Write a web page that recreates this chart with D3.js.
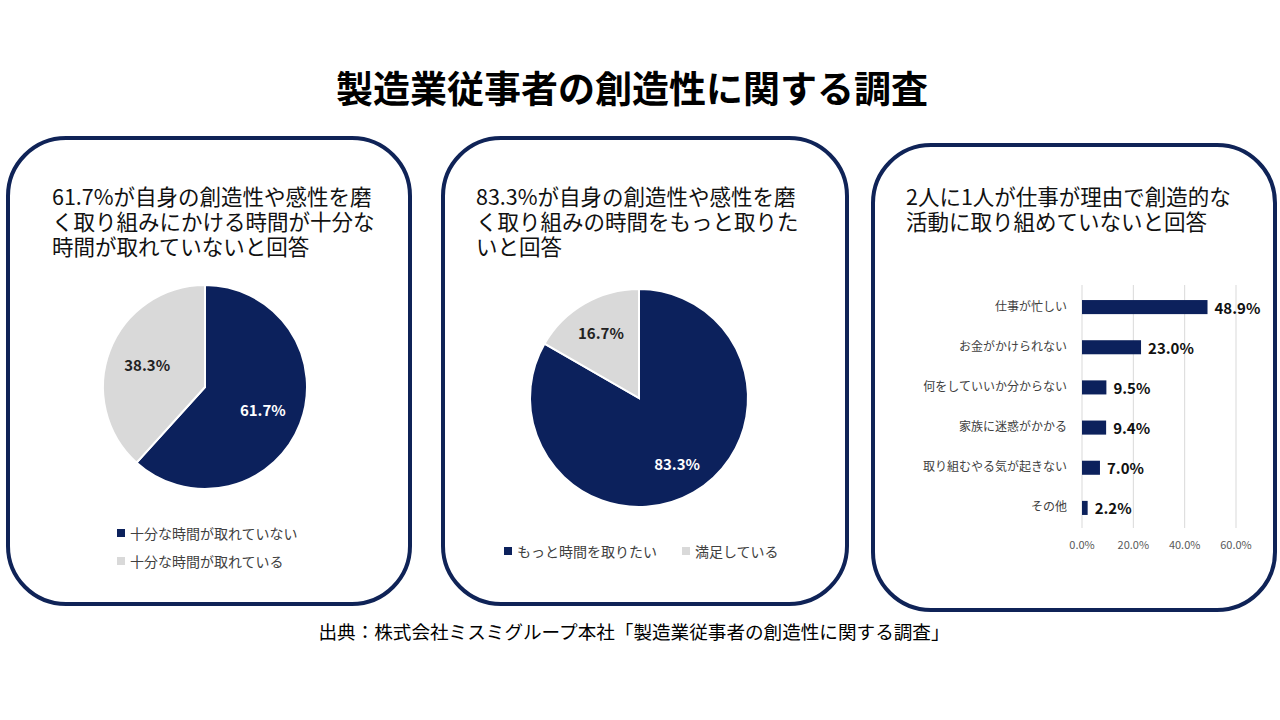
<!DOCTYPE html>
<html><head><meta charset="utf-8">
<script src="https://cdn.jsdelivr.net/npm/d3@7"></script>
<style>
html,body{margin:0;padding:0;background:#fff;}
text{font-family:"Noto Sans CJK JP","Noto Sans",sans-serif;}
</style></head>
<body>
<svg id="chart" width="1280" height="720"></svg>
<script>
const mainTitle = "製造業従事者の創造性に関する調査";
const sourceText = "出典：株式会社ミスミグループ本社「製造業従事者の創造性に関する調査」";

const pie1Title = ["61.7%が自身の創造性や感性を磨", "く取り組みにかける時間が十分な", "時間が取れていないと回答"];
const pie1Labels = ["十分な時間が取れていない", "十分な時間が取れている"];
const pie1Values = [61.7, 38.3];

const pie2Title = ["83.3%が自身の創造性や感性を磨", "く取り組みの時間をもっと取りた", "いと回答"];
const pie2Labels = ["もっと時間を取りたい", "満足している"];
const pie2Values = [83.3, 16.7];

const barTitle = ["2人に1人が仕事が理由で創造的な", "活動に取り組めていないと回答"];
const barCategories = ["仕事が忙しい", "お金がかけられない", "何をしていいか分からない", "家族に迷惑がかかる", "取り組むやる気が起きない", "その他"];
const barValues = [48.9, 23.0, 9.5, 9.4, 7.0, 2.2];
const barTicks = [0, 20, 40, 60];

const NAVY = "#0c215c", GRAY = "#d9d9d9", BORDER = "#0f2357";
const svg = d3.select("#chart");

svg.append("text").attr("x", 632).attr("y", 87).attr("text-anchor", "middle")
  .attr("dominant-baseline", "central").attr("font-size", 37).attr("font-weight", 700)
  .attr("fill", "#000").text(mainTitle);

svg.append("text").attr("x", 634).attr("y", 630).attr("text-anchor", "middle")
  .attr("dominant-baseline", "central").attr("font-size", 18.6).attr("fill", "#000").text(sourceText);

const panels = [
  {x: 8, y: 138, w: 402, h: 466},
  {x: 443, y: 138, w: 404, h: 466},
  {x: 873, y: 145, w: 402, h: 465}
];
panels.forEach(p => {
  svg.append("rect").attr("x", p.x).attr("y", p.y).attr("width", p.w).attr("height", p.h)
    .attr("rx", 58).attr("ry", 58).attr("fill", "#fff").attr("stroke", BORDER).attr("stroke-width", 4);
});

function panelTitle(lines, x, y0) {
  lines.forEach((l, i) => svg.append("text").attr("font-size", 21.5).attr("fill", "#111")
    .attr("x", x).attr("y", y0 + i * 25).attr("dominant-baseline", "central").text(l));
}
panelTitle(pie1Title, 52, 195);
panelTitle(pie2Title, 476, 195);
panelTitle(barTitle, 906, 195);

function drawPie(values, cx, cy, r, labelR) {
  const pie = d3.pie().sort(null).value(d => d);
  const arc = d3.arc().innerRadius(0).outerRadius(r);
  const lab = d3.arc().innerRadius(labelR).outerRadius(labelR);
  const g = svg.append("g").attr("transform", `translate(${cx},${cy})`);
  const arcs = pie(values);
  g.selectAll("path").data(arcs).join("path").attr("d", arc)
    .attr("fill", (d, i) => i === 0 ? NAVY : GRAY).attr("stroke", "#fff").attr("stroke-width", 2);
  g.selectAll("text").data(arcs).join("text")
    .attr("transform", d => `translate(${lab.centroid(d)})`)
    .attr("text-anchor", "middle").attr("dominant-baseline", "central")
    .attr("font-size", 15).attr("font-weight", 700)
    .attr("font-family", "Verdana, 'DejaVu Sans', sans-serif")
    .attr("fill", (d, i) => i === 0 ? "#fff" : "#222")
    .text(d => d.data.toFixed(1) + "%");
}
drawPie(pie1Values, 205, 387, 102, 62);
drawPie(pie2Values, 639, 398, 109, 76);

function legendItem(x, y, color, label) {
  svg.append("rect").attr("x", x).attr("y", y - 4).attr("width", 8).attr("height", 8).attr("fill", color);
  svg.append("text").attr("x", x + 13).attr("y", y).attr("dominant-baseline", "central")
    .attr("font-size", 14).attr("fill", "#404040").text(label);
}
legendItem(117, 533, NAVY, pie1Labels[0]);
legendItem(117, 561, GRAY, pie1Labels[1]);
legendItem(504, 551, NAVY, pie2Labels[0]);
legendItem(682, 551, GRAY, pie2Labels[1]);

// Bar chart
const x = d3.scaleLinear().domain([0, 60]).range([1082, 1236]);
const y = d3.scaleBand().domain(barCategories).range([287, 528]).paddingInner(0.65).paddingOuter(0.325);
const bg = svg.append("g");
bg.selectAll("line.grid").data(barTicks).join("line").attr("class", "grid")
  .attr("x1", d => x(d)).attr("x2", d => x(d)).attr("y1", 285).attr("y2", 528)
  .attr("stroke", "#d9d9d9").attr("stroke-width", 1);
bg.selectAll("text.tick").data(barTicks).join("text").attr("class", "tick")
  .attr("x", d => x(d)).attr("y", 544).attr("text-anchor", "middle").attr("dominant-baseline", "central")
  .attr("font-size", 11).attr("fill", "#595959").text(d => d.toFixed(1) + "%");
bg.selectAll("rect.bar").data(barValues).join("rect").attr("class", "bar")
  .attr("x", x(0)).attr("y", (d, i) => y(barCategories[i]))
  .attr("width", d => x(d) - x(0)).attr("height", y.bandwidth()).attr("fill", NAVY);
bg.selectAll("text.val").data(barValues).join("text").attr("class", "val")
  .attr("x", d => x(d) + 7).attr("y", (d, i) => y(barCategories[i]) + y.bandwidth() / 2)
  .attr("dominant-baseline", "central").attr("font-size", 15).attr("font-weight", 700)
  .attr("font-family", "Verdana, 'DejaVu Sans', sans-serif")
  .attr("fill", "#111").text(d => d.toFixed(1) + "%");
bg.selectAll("text.cat").data(barCategories).join("text").attr("class", "cat")
  .attr("x", 1067).attr("y", d => y(d) + y.bandwidth() / 2 - 2)
  .attr("text-anchor", "end").attr("dominant-baseline", "central")
  .attr("font-size", 12).attr("fill", "#404040").text(d => d);
</script>
</body></html>
